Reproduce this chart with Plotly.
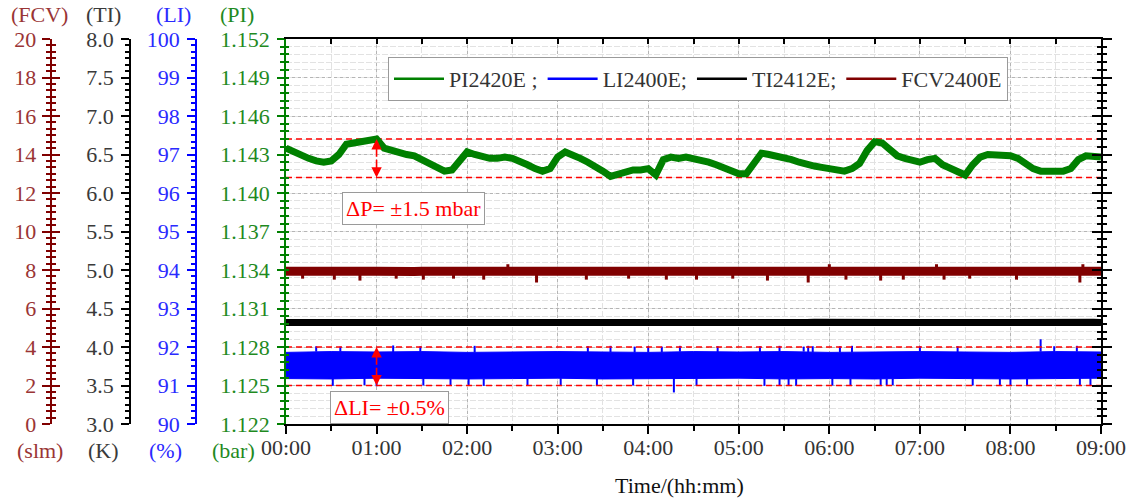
import plotly.graph_objects as go

# ------------------------------------------------------------------ data
TIME_MIN = list(range(0, 545, 5))          # sample times, minutes from 00:00
TICK_MIN = [0, 60, 120, 180, 240, 300, 360, 420, 480, 540]
TICK_TEXT = ["00:00", "01:00", "02:00", "03:00", "04:00", "05:00", "06:00", "07:00", "08:00", "09:00"]

PI_VALUES = [
    1.1435, 1.1432, 1.1429, 1.1427, 1.1425, 1.1424, 1.1425, 1.1430, 1.1438, 1.1439,
    1.1439, 1.1440, 1.1442, 1.1435, 1.1433, 1.1432, 1.1430, 1.1429, 1.1426, 1.1423,
    1.1420, 1.1417, 1.1418, 1.1426, 1.1432, 1.1430, 1.1428, 1.1427, 1.1427, 1.1428,
    1.1427, 1.1425, 1.1422, 1.1419, 1.1417, 1.1419, 1.1428, 1.1432, 1.1430, 1.1427,
    1.1424, 1.1421, 1.1417, 1.1413, 1.1415, 1.1417, 1.1418, 1.1418, 1.1419, 1.1414,
    1.1426, 1.1428, 1.1427, 1.1428, 1.1427, 1.1425, 1.1424, 1.1422, 1.1420, 1.1418,
    1.1415, 1.1415, 1.1423, 1.1431, 1.1430, 1.1429, 1.1428, 1.1426, 1.1424, 1.1422,
    1.1421, 1.1420, 1.1419, 1.1418, 1.1417, 1.1419, 1.1423, 1.1433, 1.1440, 1.1439,
    1.1434, 1.1429, 1.1427, 1.1425, 1.1424, 1.1426, 1.1427, 1.1422, 1.1419, 1.1416,
    1.1414, 1.1422, 1.1428, 1.1430, 1.1430, 1.1429, 1.1429, 1.1427, 1.1423, 1.1419,
    1.1417, 1.1417, 1.1417, 1.1417, 1.1419, 1.1426, 1.1429, 1.1428, 1.1428,
]
PI_LIMITS = [1.1412, 1.1442]
PI_TICKS = [1.122, 1.125, 1.128, 1.131, 1.134, 1.137, 1.140, 1.143, 1.146, 1.149, 1.152]
PI_TICKTEXT = ["1.122", "1.125", "1.128", "1.131", "1.134", "1.137", "1.140", "1.143", "1.146", "1.149", "1.152"]

LI_BAND_T = [0, 30, 60, 90, 120, 150, 180, 210, 240, 270, 300, 330, 360, 390, 420, 450, 480, 510, 540]
LI_UPPER = [91.86, 91.88, 91.87, 91.88, 91.86, 91.87, 91.88, 91.87, 91.86, 91.88,
            91.87, 91.88, 91.86, 91.87, 91.88, 91.87, 91.86, 91.88, 91.87]
LI_LOWER = [91.18, 91.17, 91.19, 91.18, 91.17, 91.18, 91.19, 91.17, 91.18, 91.18,
            91.19, 91.17, 91.18, 91.17, 91.19, 91.18, 91.17, 91.18, 91.19]
LI_UP_T = [20, 36, 71, 89, 125, 200, 215, 231, 240, 249, 261, 286, 314, 327, 343, 346, 349, 367, 375, 420, 445, 500, 509, 524]
LI_UP_V = [92.02, 92.01, 92.04, 92.02, 92.03, 92.02, 92.03, 92.01, 92.02, 92.01, 92.03, 92.02, 92.02, 92.03,
           92.01, 92.03, 92.02, 92.02, 92.03, 92.02, 92.02, 92.20, 92.02, 92.03]
LI_DN_T = [31, 52, 60, 91, 109, 121, 131, 160, 182, 206, 230, 257, 272, 317, 327, 333, 338, 362, 374, 394, 398, 402, 455, 473, 480, 491, 526, 533]
LI_DN_V = [90.99, 91.01, 90.98, 91.00, 91.01, 91.00, 90.99, 91.00, 91.01, 90.99, 91.00, 90.82, 91.00, 90.99,
           91.00, 91.01, 90.99, 91.00, 91.01, 90.99, 91.00, 91.01, 91.00, 90.99, 91.00, 91.01, 90.99, 91.00]
LI_LIMITS = [91.0, 92.0]
LI_TICKS = [90, 91, 92, 93, 94, 95, 96, 97, 98, 99, 100]

TI_VALUES = [
    4.318, 4.320, 4.317, 4.319, 4.318, 4.321, 4.318, 4.317, 4.319, 4.320,
    4.318, 4.317, 4.319, 4.318, 4.320, 4.318, 4.317, 4.319, 4.318, 4.321,
    4.319, 4.318, 4.317, 4.320, 4.318, 4.319, 4.317, 4.318, 4.320, 4.318,
    4.317, 4.319, 4.318, 4.321, 4.318, 4.317, 4.319, 4.320, 4.318, 4.317,
    4.319, 4.318, 4.320, 4.318, 4.317, 4.319, 4.318, 4.321, 4.319, 4.318,
    4.317, 4.320, 4.318, 4.319, 4.317, 4.318, 4.320, 4.318, 4.317, 4.319,
    4.318, 4.321, 4.318, 4.317, 4.319, 4.320, 4.318, 4.317, 4.319, 4.318,
    4.320, 4.318, 4.317, 4.319, 4.318, 4.321, 4.319, 4.318, 4.317, 4.320,
    4.318, 4.319, 4.317, 4.318, 4.320, 4.318, 4.317, 4.319, 4.318, 4.321,
    4.318, 4.317, 4.319, 4.320, 4.318, 4.317, 4.319, 4.318, 4.320, 4.318,
    4.317, 4.319, 4.318, 4.321, 4.319, 4.318, 4.317, 4.320, 4.318,
]
TI_TICKS = [3.0, 3.5, 4.0, 4.5, 5.0, 5.5, 6.0, 6.5, 7.0, 7.5, 8.0]
TI_TICKTEXT = ["3.0", "3.5", "4.0", "4.5", "5.0", "5.5", "6.0", "6.5", "7.0", "7.5", "8.0"]

FCV_VALUES = [
    7.93, 7.94, 7.92, 7.93, 7.95, 7.92, 7.93, 7.94, 7.93, 7.92,
    7.94, 7.93, 7.93, 7.95, 7.92, 7.93, 7.94, 7.92, 7.93, 7.93,
    7.94, 7.92, 7.93, 7.95, 7.93, 7.92, 7.94, 7.93, 7.92, 7.93,
    7.94, 7.93, 7.95, 7.92, 7.93, 7.94, 7.93, 7.92, 7.93, 7.94,
    7.93, 7.92, 7.95, 7.93, 7.94, 7.92, 7.93, 7.93, 7.94, 7.92,
    7.93, 7.95, 7.93, 7.92, 7.94, 7.93, 7.92, 7.93, 7.94, 7.93,
    7.95, 7.92, 7.93, 7.94, 7.93, 7.92, 7.93, 7.94, 7.93, 7.92,
    7.95, 7.93, 7.94, 7.92, 7.93, 7.93, 7.94, 7.92, 7.93, 7.95,
    7.93, 7.92, 7.94, 7.93, 7.92, 7.93, 7.94, 7.93, 7.95, 7.92,
    7.93, 7.94, 7.93, 7.92, 7.93, 7.94, 7.93, 7.92, 7.95, 7.93,
    7.94, 7.92, 7.93, 7.93, 7.94, 7.92, 7.93, 7.95, 7.93,
]
FCV_SPIKE_T = [11, 32, 49, 73, 91, 111, 131, 147, 166, 199, 227, 252, 272, 296, 319, 346, 360, 371, 394, 409, 431, 436, 453, 484, 526, 528]
FCV_SPIKE_V = [7.55, 7.50, 7.45, 7.55, 7.50, 7.55, 7.50, 8.30, 7.35, 7.50, 7.55, 7.50, 7.50, 7.55, 7.45, 7.35,
               8.30, 7.50, 7.45, 7.50, 8.30, 7.50, 7.55, 7.50, 7.35, 8.30]
FCV_TICKS = [0, 2, 4, 6, 8, 10, 12, 14, 16, 18, 20]

# ------------------------------------------------------------------ style
GREEN, GREEN_T = "#008000", "#1f8a1f"
BLUE, BLUE_T = "#0000ff", "#2a2aff"
MAROON, MAROON_T = "#800000", "#9a3535"
BLACK, BLACK_T = "#000000", "#3a3a3a"
RED = "#ff0000"
FONT = "Liberation Serif"
FS = 22

W, H = 1134, 499
ML, MR, MT, MB = 0, 33, 39, 75
PW, PH = W - ML - MR, H - MT - MB


def xp(px):
    """screen x (pixels) -> paper fraction"""
    return (px - ML) / PW


def yp(py):
    """screen y (pixels) -> paper fraction"""
    return 1 - (py - MT) / PH


def nearest(ts, vals, t):
    i = min(range(len(ts)), key=lambda k: abs(ts[k] - t))
    return vals[i]


def segments(ts, vs, base_t, base_v):
    xs, ys = [], []
    for t, v in zip(ts, vs):
        xs += [t, t, None]
        ys += [nearest(base_t, base_v, t), v, None]
    return xs, ys


fig = go.Figure()

# FCV
fx, fy = segments(FCV_SPIKE_T, FCV_SPIKE_V, TIME_MIN, FCV_VALUES)
fig.add_trace(go.Scatter(x=TIME_MIN, y=FCV_VALUES, yaxis="y4", mode="lines",
                         line=dict(color=MAROON, width=9), showlegend=False, hoverinfo="skip"))
fig.add_trace(go.Scatter(x=fx, y=fy, yaxis="y4", mode="lines",
                         line=dict(color=MAROON, width=3), showlegend=False, hoverinfo="skip"))
# TI
fig.add_trace(go.Scatter(x=TIME_MIN, y=TI_VALUES, yaxis="y2", mode="lines",
                         line=dict(color=BLACK, width=7), showlegend=False, hoverinfo="skip"))
# LI band
fig.add_trace(go.Scatter(x=LI_BAND_T, y=LI_UPPER, yaxis="y3", mode="lines",
                         line=dict(color=BLUE, width=1), showlegend=False, hoverinfo="skip"))
fig.add_trace(go.Scatter(x=LI_BAND_T, y=LI_LOWER, yaxis="y3", mode="lines", fill="tonexty",
                         fillcolor=BLUE, line=dict(color=BLUE, width=1), showlegend=False, hoverinfo="skip"))
ux, uy = segments(LI_UP_T, LI_UP_V, LI_BAND_T, LI_UPPER)
dx, dy = segments(LI_DN_T, LI_DN_V, LI_BAND_T, LI_LOWER)
fig.add_trace(go.Scatter(x=ux + dx, y=uy + dy, yaxis="y3", mode="lines",
                         line=dict(color=BLUE, width=2), showlegend=False, hoverinfo="skip"))
for lv in LI_LIMITS:
    fig.add_trace(go.Scatter(x=[TICK_MIN[0], TICK_MIN[-1]], y=[lv, lv], yaxis="y3", mode="lines",
                             line=dict(color=RED, width=1.5, dash="6px,4px"), showlegend=False, hoverinfo="skip"))
# PI
for lv in PI_LIMITS:
    fig.add_trace(go.Scatter(x=[TICK_MIN[0], TICK_MIN[-1]], y=[lv, lv], yaxis="y", mode="lines",
                             line=dict(color=RED, width=1.5, dash="6px,4px"), showlegend=False, hoverinfo="skip"))
fig.add_trace(go.Scatter(x=TIME_MIN, y=PI_VALUES, yaxis="y", mode="lines",
                         line=dict(color=GREEN, width=7), showlegend=False, hoverinfo="skip"))

# legend entries
for name, col in [("PI2420E ;", GREEN), ("LI2400E;", BLUE), ("TI2412E;", BLACK), ("FCV2400E", MAROON)]:
    fig.add_trace(go.Scatter(x=[None], y=[None], mode="lines", name=name,
                             line=dict(color=col, width=2.5), hoverinfo="skip"))

# dummy traces so the decorative axes exist
for ya in ["y5", "y6", "y7", "y8"]:
    fig.add_trace(go.Scatter(x=[None], y=[None], yaxis=ya, showlegend=False, hoverinfo="skip"))
fig.add_trace(go.Scatter(x=[None], y=[None], xaxis="x2", showlegend=False, hoverinfo="skip"))

MAJ_GRID, MIN_GRID = "#b5b5b5", "#e2e2e2"

common = dict(zeroline=False, showgrid=False, tickwidth=1.5, linewidth=1.5, showline=True, automargin=False)
plain = dict(showticklabels=False, zeroline=False, showgrid=False, showline=False, tickwidth=1.5, automargin=False)

fig.update_layout(
    width=W, height=H,
    margin=dict(l=ML, r=MR, t=MT, b=MB, pad=0, autoexpand=False),
    paper_bgcolor="white", plot_bgcolor="white",
    font=dict(family=FONT, size=FS, color=BLACK_T),
    legend=dict(orientation="h", x=xp(388), y=yp(57), xanchor="left", yanchor="top",
                traceorder="normal",
                bgcolor="white", bordercolor="#9a9a9a", borderwidth=1,
                font=dict(family=FONT, size=FS, color="#333333"), itemwidth=50, tracegroupgap=0),
    xaxis=dict(domain=[xp(286), 1], range=[0, 540], anchor="y", automargin=False,
               tickmode="array", tickvals=TICK_MIN, ticktext=TICK_TEXT,
               ticks="outside", ticklen=8, tickwidth=1.5, tickcolor=BLACK, ticklabelstandoff=-5,
               showline=True, linecolor=BLACK, linewidth=1.5, zeroline=False,
               tickfont=dict(family=FONT, size=FS, color="#333333"),
               showgrid=True, gridcolor=MAJ_GRID, griddash="3px,3px", gridwidth=1,
               minor=dict(tickmode="linear", tick0=0, dtick=30, ticks="outside", ticklen=5,
                          tickcolor=BLACK, tickwidth=1.5, showgrid=True, gridcolor=MIN_GRID,
                          griddash="6px,2px", gridwidth=1)),
    xaxis2=dict(overlaying="x", side="top", range=[0, 540], anchor="y",
                tickmode="linear", tick0=0, dtick=30, ticks="inside", ticklen=5, tickcolor=BLACK,
                showticklabels=False, **common, linecolor=BLACK),
    yaxis=dict(range=[1.122, 1.152], anchor="x", side="left", automargin=False,
               tickmode="array", tickvals=PI_TICKS, ticktext=PI_TICKTEXT,
               ticks="outside", ticklen=7, tickwidth=1.5, tickcolor=GREEN, ticklabelstandoff=3,
               showline=True, linecolor=GREEN, linewidth=1.5, zeroline=False,
               tickfont=dict(family=FONT, size=FS, color=GREEN_T),
               showgrid=True, gridcolor=MAJ_GRID, griddash="3px,3px", gridwidth=1,
               minor=dict(tickmode="linear", tick0=1.122, dtick=0.0006, ticks="outside", ticklen=4,
                          tickcolor=GREEN, tickwidth=1.5, showgrid=True, gridcolor=MIN_GRID,
                          griddash="6px,2px", gridwidth=1)),
    yaxis5=dict(range=[1.122, 1.152], overlaying="y", anchor="x", side="left",
                tickmode="array", tickvals=PI_TICKS, ticks="inside", ticklen=3, tickcolor=GREEN, **plain,
                minor=dict(tickmode="linear", tick0=1.122, dtick=0.0006, ticks="inside", ticklen=3,
                           tickcolor=GREEN, tickwidth=1.5)),
    yaxis6=dict(range=[1.122, 1.152], overlaying="y", anchor="x", side="right",
                tickmode="array", tickvals=PI_TICKS, ticks="outside", ticklen=9, tickcolor=BLACK,
                showticklabels=False, **common, linecolor=BLACK,
                minor=dict(tickmode="linear", tick0=1.122, dtick=0.0006, ticks="outside", ticklen=4,
                           tickcolor=BLACK, tickwidth=1.5)),
    yaxis7=dict(range=[1.122, 1.152], overlaying="y", anchor="x", side="right",
                tickmode="array", tickvals=PI_TICKS, ticks="inside", ticklen=9, tickcolor=BLACK, **plain,
                minor=dict(tickmode="linear", tick0=1.122, dtick=0.0006, ticks="inside", ticklen=4,
                           tickcolor=BLACK, tickwidth=1.5)),
    yaxis2=dict(range=[3, 8], overlaying="y", anchor="free", position=xp(130), side="left",
                tickmode="array", tickvals=TI_TICKS, ticktext=TI_TICKTEXT, ticklabelstandoff=3,
                ticks="outside", ticklen=8, tickcolor=BLACK, **common, linecolor=BLACK,
                tickfont=dict(family=FONT, size=FS, color=BLACK_T),
                minor=dict(tickmode="linear", tick0=3, dtick=0.5 / 6, ticks="outside", ticklen=4,
                           tickcolor=BLACK, tickwidth=1.5)),
    yaxis3=dict(range=[90, 100], overlaying="y", anchor="free", position=xp(196), side="left",
                tickmode="array", tickvals=LI_TICKS, ticklabelstandoff=3,
                ticks="outside", ticklen=8, tickcolor=BLUE, **common, linecolor=BLUE,
                tickfont=dict(family=FONT, size=FS, color=BLUE_T),
                minor=dict(tickmode="linear", tick0=90, dtick=1 / 6, ticks="outside", ticklen=4,
                           tickcolor=BLUE, tickwidth=1.5)),
    yaxis4=dict(range=[0, 20], overlaying="y", anchor="free", position=xp(50.5), side="left",
                tickmode="array", tickvals=FCV_TICKS, ticklabelstandoff=1,
                ticks="outside", ticklen=8, tickcolor=MAROON, **common, linecolor=MAROON,
                tickfont=dict(family=FONT, size=FS, color=MAROON_T),
                minor=dict(tickmode="linear", tick0=0, dtick=2 / 6, ticks="outside", ticklen=4,
                           tickcolor=MAROON, tickwidth=1.5)),
    yaxis8=dict(range=[0, 20], overlaying="y", anchor="free", position=xp(50.5), side="left",
                tickmode="array", tickvals=FCV_TICKS, ticks="inside", ticklen=8, tickcolor=MAROON, **plain,
                minor=dict(tickmode="linear", tick0=0, dtick=2 / 6, ticks="inside", ticklen=4,
                           tickcolor=MAROON, tickwidth=1.5)),
)

ann = []
# axis unit labels
for txt, px, py, col in [("(FCV)", 39, 14, MAROON_T), ("(TI)", 104, 14, BLACK_T), ("(LI)", 173, 14, BLUE_T),
                         ("(PI)", 237, 14, GREEN_T), ("(slm)", 40, 450, MAROON_T), ("(K)", 103, 450, BLACK_T),
                         ("(%)", 165, 450, BLUE_T), ("(bar)", 233, 450, GREEN_T)]:
    ann.append(dict(text=txt, x=xp(px), y=yp(py), xref="paper", yref="paper", showarrow=False,
                    xanchor="center", yanchor="middle", font=dict(family=FONT, size=FS, color=col)))
ann.append(dict(text="Time/(hh:mm)", x=xp(679), y=yp(485), xref="paper", yref="paper", showarrow=False,
                xanchor="center", yanchor="middle", font=dict(family=FONT, size=FS, color="#111111")))
# delta boxes
ann.append(dict(text="ΔP= ±1.5 mbar", x=xp(413), y=yp(208), xref="paper", yref="paper", showarrow=False,
                xanchor="center", yanchor="middle",
                font=dict(family=FONT, size=FS, color=RED), bgcolor="white", bordercolor="#9a9a9a",
                borderwidth=1, borderpad=3))
ann.append(dict(text="ΔLI= ±0.5%", x=xp(389), y=yp(407), xref="paper", yref="paper", showarrow=False,
                xanchor="center", yanchor="middle",
                font=dict(family=FONT, size=FS, color=RED), bgcolor="white", bordercolor="#9a9a9a",
                borderwidth=1, borderpad=3))
# double arrows at 01:00
pmid = (PI_LIMITS[0] + PI_LIMITS[1]) / 2
lmid = (LI_LIMITS[0] + LI_LIMITS[1]) / 2
for lv in PI_LIMITS:
    ann.append(dict(text="", x=TICK_MIN[1], y=lv, ax=TICK_MIN[1], ay=pmid, xref="x", yref="y",
                    axref="x", ayref="y", showarrow=True, arrowhead=2, arrowsize=1.3, arrowwidth=1.6,
                    arrowcolor=RED))
for lv in LI_LIMITS:
    ann.append(dict(text="", x=TICK_MIN[1], y=lv, ax=TICK_MIN[1], ay=lmid, xref="x", yref="y3",
                    axref="x", ayref="y3", showarrow=True, arrowhead=2, arrowsize=1.3, arrowwidth=1.6,
                    arrowcolor=RED))
fig.update_layout(annotations=ann)

# place the figure at the window's top-left corner (remove the default page margin)
fig.write_html("out.html", config={"displayModeBar": False},
               post_script="document.body.style.margin='0';")
